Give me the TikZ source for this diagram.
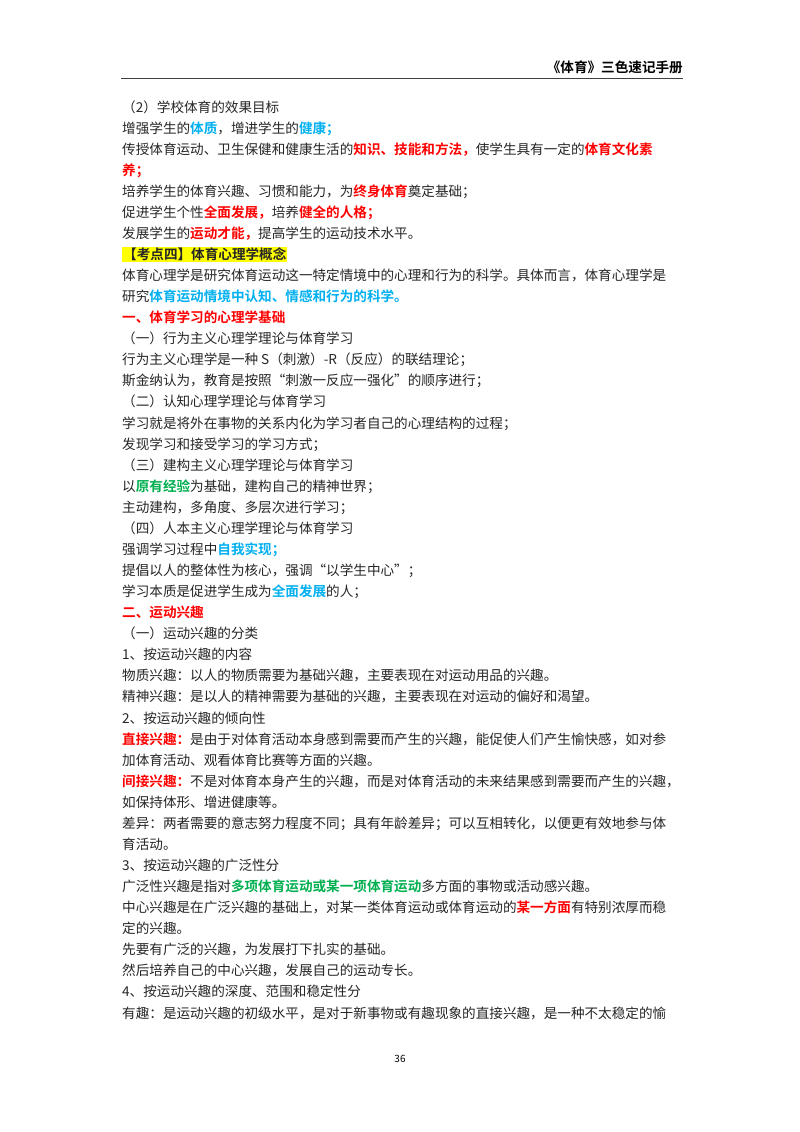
\documentclass[tikz,border=0pt]{standalone}
\usepackage{fontspec}
\setmainfont{Noto Sans CJK SC}[BoldFont={Noto Sans CJK SC Bold}]
\definecolor{cb}{HTML}{00B0F0}
\definecolor{cr}{HTML}{FF0000}
\definecolor{cg}{HTML}{00B050}
\definecolor{hl}{HTML}{FFFF00}
\newcommand{\Bt}[1]{{\bfseries\color{cb}#1}}
\newcommand{\Rt}[1]{{\bfseries\color{cr}#1}}
\newcommand{\Gt}[1]{{\bfseries\color{cg}#1}}
\begin{document}
\begin{tikzpicture}[x=1pt,y=-1pt,
  ln/.style={anchor=base west,inner sep=0pt,font=\fontsize{13.6pt}{16pt}\selectfont,text=black!85}]
\useasboundingbox[fill=white] (0,0) rectangle (800,1132);
\node[anchor=base east,inner sep=0pt,font=\fontsize{13.6pt}{16pt}\selectfont\bfseries] (hdr) at (683,73) {《体育》三色速记手册};
\coordinate (rl) at (121,78.5); \coordinate (rr) at (683,78.5);
\draw[line width=0.9pt,black!75] (rl) -- (rr);
\def\LL#1#2{\node[ln] (l#1) at (122,{107+(#1-1)*21.07+5}) {#2};}
\LL{1}{（2）学校体育的效果目标}
\LL{2}{增强学生的\Bt{体质}，增进学生的\Bt{健康；}}
\LL{3}{传授体育运动、卫生保健和健康生活的\Rt{知识、技能和方法，}使学生具有一定的\Rt{体育文化素}}
\LL{4}{\Rt{养；}}
\LL{5}{培养学生的体育兴趣、习惯和能力，为\Rt{终身体育}奠定基础；}
\LL{6}{促进学生个性\Rt{全面发展，}培养\Rt{健全的人格；}}
\LL{7}{发展学生的\Rt{运动才能，}提高学生的运动技术水平。}
\node[ln,fill=hl,inner sep=1pt] (l8) at (122,{107+7*21.07+5}) {\bfseries【考点四】体育心理学概念};
\LL{9}{体育心理学是研究体育运动这一特定情境中的心理和行为的科学。具体而言，体育心理学是}
\LL{10}{研究\Bt{体育运动情境中认知、情感和行为的科学。}}
\LL{11}{\Rt{一、体育学习的心理学基础}}
\LL{12}{（一）行为主义心理学理论与体育学习}
\LL{13}{行为主义心理学是一种 S（刺激）-R（反应）的联结理论；}
\LL{14}{斯金纳认为，教育是按照“刺激一反应一强化”的顺序进行；}
\LL{15}{（二）认知心理学理论与体育学习}
\LL{16}{学习就是将外在事物的关系内化为学习者自己的心理结构的过程；}
\LL{17}{发现学习和接受学习的学习方式；}
\LL{18}{（三）建构主义心理学理论与体育学习}
\LL{19}{以\Gt{原有经验}为基础，建构自己的精神世界；}
\LL{20}{主动建构，多角度、多层次进行学习；}
\LL{21}{（四）人本主义心理学理论与体育学习}
\LL{22}{强调学习过程中\Bt{自我实现；}}
\LL{23}{提倡以人的整体性为核心，强调“以学生中心”；}
\LL{24}{学习本质是促进学生成为\Bt{全面发展}的人；}
\LL{25}{\Rt{二、运动兴趣}}
\LL{26}{（一）运动兴趣的分类}
\LL{27}{1、按运动兴趣的内容}
\LL{28}{物质兴趣：以人的物质需要为基础兴趣，主要表现在对运动用品的兴趣。}
\LL{29}{精神兴趣：是以人的精神需要为基础的兴趣，主要表现在对运动的偏好和渴望。}
\LL{30}{2、按运动兴趣的倾向性}
\LL{31}{\Rt{直接兴趣：}是由于对体育活动本身感到需要而产生的兴趣，能促使人们产生愉快感，如对参}
\LL{32}{加体育活动、观看体育比赛等方面的兴趣。}
\LL{33}{\Rt{间接兴趣：}不是对体育本身产生的兴趣，而是对体育活动的未来结果感到需要而产生的兴趣，}
\LL{34}{如保持体形、增进健康等。}
\LL{35}{差异：两者需要的意志努力程度不同；具有年龄差异；可以互相转化，以便更有效地参与体}
\LL{36}{育活动。}
\LL{37}{3、按运动兴趣的广泛性分}
\LL{38}{广泛性兴趣是指对\Gt{多项体育运动或某一项体育运动}多方面的事物或活动感兴趣。}
\LL{39}{中心兴趣是在广泛兴趣的基础上，对某一类体育运动或体育运动的\Rt{某一方面}有特别浓厚而稳}
\LL{40}{定的兴趣。}
\LL{41}{先要有广泛的兴趣，为发展打下扎实的基础。}
\LL{42}{然后培养自己的中心兴趣，发展自己的运动专长。}
\LL{43}{4、按运动兴趣的深度、范围和稳定性分}
\LL{44}{有趣：是运动兴趣的初级水平，是对于新事物或有趣现象的直接兴趣，是一种不太稳定的愉}
\node[anchor=base,inner sep=0pt,font=\fontsize{10pt}{12pt}\selectfont] (pg) at (400,1062) {36};
\end{tikzpicture}
\end{document}
